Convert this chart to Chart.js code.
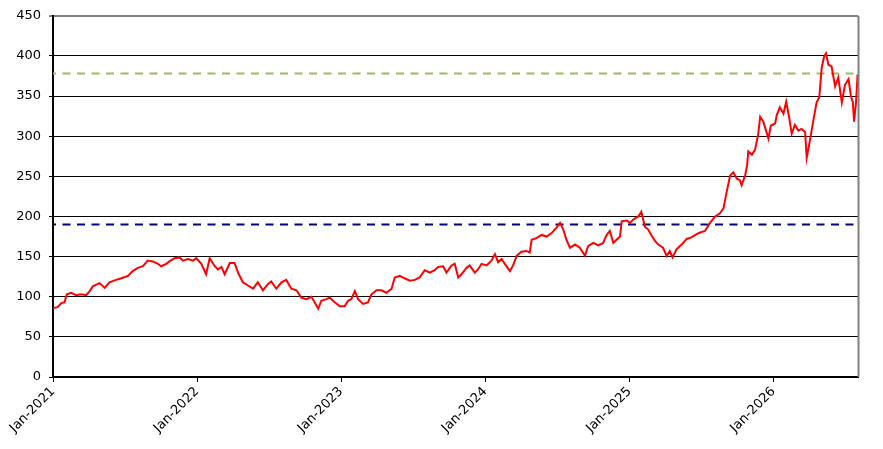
<!DOCTYPE html>
<html>
<head>
<meta charset="utf-8">
<script src="https://cdn.jsdelivr.net/npm/chart.js@4/dist/chart.umd.min.js"></script>
<style>
  html, body { margin: 0; padding: 0; background: #fff; }
  #wrap { width: 883px; height: 449px; }
</style>
</head>
<body>
<div id="wrap"><canvas id="myChart"></canvas></div>
<script>
"use strict";

// Datum och kurs
const dates = [
    '2021-01-01', '2021-01-13', '2021-01-22', '2021-01-30', '2021-02-05', '2021-02-16', '2021-03-01', '2021-03-13',
    '2021-03-26', '2021-04-04', '2021-04-12', '2021-04-29', '2021-05-12', '2021-05-24', '2021-06-10', '2021-06-23',
    '2021-07-10', '2021-07-22', '2021-08-04', '2021-08-17', '2021-08-29', '2021-09-11', '2021-09-24', '2021-10-02',
    '2021-10-15', '2021-10-23', '2021-11-05', '2021-11-18', '2021-11-26', '2021-12-09', '2021-12-22', '2021-12-30',
    '2022-01-12', '2022-01-24', '2022-02-02', '2022-02-15', '2022-02-23', '2022-03-04', '2022-03-12', '2022-03-25',
    '2022-04-06', '2022-04-15', '2022-04-27', '2022-05-10', '2022-05-23', '2022-06-04', '2022-06-17', '2022-06-30',
    '2022-07-08', '2022-07-21', '2022-08-03', '2022-08-15', '2022-08-28', '2022-09-10', '2022-09-22', '2022-10-05',
    '2022-10-18', '2022-10-26', '2022-11-04', '2022-11-12', '2022-11-25', '2022-12-03', '2022-12-16', '2022-12-29',
    '2023-01-10', '2023-01-19', '2023-01-27', '2023-02-05', '2023-02-13', '2023-02-26', '2023-03-10', '2023-03-19',
    '2023-04-01', '2023-04-13', '2023-04-26', '2023-05-09', '2023-05-17', '2023-05-30', '2023-06-11', '2023-06-24',
    '2023-07-07', '2023-07-19', '2023-08-01', '2023-08-14', '2023-08-26', '2023-09-04', '2023-09-17', '2023-09-25',
    '2023-10-08', '2023-10-16', '2023-10-25', '2023-11-02', '2023-11-15', '2023-11-23', '2023-12-06', '2023-12-14',
    '2023-12-23', '2024-01-05', '2024-01-17', '2024-01-26', '2024-02-03', '2024-02-12', '2024-02-20', '2024-03-04',
    '2024-03-12', '2024-03-21', '2024-04-02', '2024-04-15', '2024-04-23', '2024-04-28', '2024-05-10', '2024-05-23',
    '2024-06-05', '2024-06-17', '2024-06-30', '2024-07-09', '2024-07-17', '2024-07-25', '2024-08-03', '2024-08-16',
    '2024-08-28', '2024-09-10', '2024-09-18', '2024-10-01', '2024-10-14', '2024-10-26', '2024-11-04', '2024-11-12',
    '2024-11-21', '2024-11-29', '2024-12-08', '2024-12-12', '2024-12-25', '2025-01-02', '2025-01-10', '2025-01-23',
    '2025-01-31', '2025-02-09', '2025-02-17', '2025-02-26', '2025-03-06', '2025-03-15', '2025-03-27', '2025-04-05',
    '2025-04-13', '2025-04-20', '2025-04-30', '2025-05-13', '2025-05-26', '2025-06-07', '2025-06-20', '2025-06-29',
    '2025-07-11', '2025-07-24', '2025-08-06', '2025-08-18', '2025-08-27', '2025-09-04', '2025-09-13', '2025-09-21',
    '2025-09-30', '2025-10-08', '2025-10-12', '2025-10-21', '2025-10-26', '2025-10-29', '2025-11-07', '2025-11-15',
    '2025-11-23', '2025-11-28', '2025-12-06', '2025-12-13', '2025-12-19', '2025-12-25', '2026-01-05', '2026-01-09',
    '2026-01-17', '2026-01-26', '2026-02-02', '2026-02-10', '2026-02-16', '2026-02-24', '2026-03-05', '2026-03-13',
    '2026-03-22', '2026-03-26', '2026-04-04', '2026-04-12', '2026-04-20', '2026-04-27', '2026-05-03', '2026-05-09',
    '2026-05-14', '2026-05-20', '2026-05-28', '2026-06-06', '2026-06-14', '2026-06-23', '2026-07-01', '2026-07-10',
    '2026-07-16', '2026-07-21', '2026-07-24', '2026-07-29', '2026-08-02'
];

const prices = [
    86, 87, 92, 93, 103, 105, 102, 103,
    102, 107, 113, 117, 111, 118, 121, 123,
    126, 132, 136, 138, 145, 144, 141, 138,
    141, 144, 148, 149, 145, 147, 145, 148,
    141, 128, 148, 138, 134, 137, 128, 142,
    142, 130, 118, 114, 110, 118, 108, 116,
    119, 110, 118, 121, 110, 108, 99, 97,
    100, 93, 85, 95, 97, 99, 93, 88,
    88, 95, 97, 107, 97, 91, 93, 103,
    108, 108, 105, 110, 124, 126, 123, 120,
    121, 124, 133, 130, 133, 137, 138, 130,
    139, 141, 124, 128, 136, 139, 130, 134,
    141, 139, 145, 153, 143, 147, 141, 132,
    139, 151, 156, 157, 155, 171, 173, 177,
    175, 179, 186, 192, 184, 171, 161, 165,
    161, 151, 163, 167, 164, 167, 177, 182,
    167, 171, 175, 194, 195, 192, 196, 200,
    206, 187, 184, 176, 170, 165, 161, 151,
    157, 149, 159, 165, 172, 174, 178, 180,
    182, 192, 200, 204, 210, 230, 251, 255,
    247, 245, 239, 251, 264, 281, 277, 283,
    302, 324, 318, 307, 297, 313, 316, 326,
    336, 328, 343, 322, 303, 314, 307, 309,
    305, 273, 297, 320, 342, 349, 385, 399,
    403, 389, 387, 362, 373, 342, 364, 371,
    350, 342, 318, 342, 377
];

// Referenslinjer (streckade)
const lowLevel = 190;
const highLevel = 378;

// Axelns start/slut och årsmarkeringar
const axisStart = '2021-01-01';
const axisEnd = '2026-08-03';
const tickDates = ['2021-01-01', '2022-01-01', '2023-01-01', '2024-01-01', '2025-01-01', '2026-01-01'];
const tickLabels = ['Jan-2021', 'Jan-2022', 'Jan-2023', 'Jan-2024', 'Jan-2025', 'Jan-2026'];

//Gör om ett datum till antal dagar efter axelns start.
function dayNumber(d) {
    const [y, m, day] = d.split('-').map(Number);
    const [y0, m0, d0] = axisStart.split('-').map(Number);
    return (Date.UTC(y, m - 1, day) - Date.UTC(y0, m0 - 1, d0)) / 86400000;
}

const minX = dayNumber(axisStart);
const maxX = dayNumber(axisEnd);

const pricePoints = dates.map((d, i) => ({ x: dayNumber(d), y: prices[i] }));

Chart.defaults.font.family = "'DejaVu Sans', Verdana, sans-serif";
Chart.defaults.font.size = 13;
Chart.defaults.color = '#000';

//Ram till höger om plotytan.
const frame = {
    id: 'frame',
    afterDraw(chart) {
        const { ctx, chartArea } = chart;
        ctx.save();
        ctx.strokeStyle = '#808080';
        ctx.lineWidth = 2;
        ctx.beginPath();
        ctx.moveTo(chartArea.right + 0.5, chartArea.top);
        ctx.lineTo(chartArea.right + 0.5, chartArea.bottom);
        ctx.stroke();
        ctx.restore();
    }
};

const ctx = document.getElementById('myChart');

new Chart(ctx, {
    type: 'line',
    data: {
        datasets: [{
            label: 'Kurs',
            data: pricePoints,
            borderColor: '#ff0000',
            borderWidth: 2,
            pointRadius: 0,
            tension: 0,
            order: 0
        }, {
            label: 'Låg',
            data: [{ x: minX, y: lowLevel }, { x: maxX, y: lowLevel }],
            borderColor: '#000080',
            borderWidth: 2.2,
            borderDash: [8, 6.5],
            borderDashOffset: 5,
            pointRadius: 0,
            order: 1
        }, {
            label: 'Hög',
            data: [{ x: minX, y: highLevel }, { x: maxX, y: highLevel }],
            borderColor: '#9bbb59',
            borderWidth: 2,
            borderDash: [8, 6.5],
            borderDashOffset: 5,
            pointRadius: 0,
            order: 2
        }]
    },
    options: {
        responsive: true,
        maintainAspectRatio: false,
        animation: false,
        events: [],
        layout: {
            padding: { top: 8, right: 25, left: 0, bottom: 0 }
        },
        plugins: {
            legend: { display: false },
            tooltip: { enabled: false }
        },
        scales: {
            x: {
                type: 'linear',
                min: minX,
                max: maxX,
                afterBuildTicks: axis => {
                    axis.ticks = tickDates.map(d => ({ value: dayNumber(d) }));
                },
                afterFit: axis => { axis.height = 72; },
                ticks: {
                    autoSkip: false,
                    maxRotation: 45,
                    minRotation: 45,
                    padding: 2,
                    callback: (value) => {
                        const i = tickDates.findIndex(d => dayNumber(d) === value);
                        return i >= 0 ? tickLabels[i] : '';
                    }
                },
                grid: {
                    drawOnChartArea: false,
                    drawTicks: true,
                    tickLength: 5,
                    color: '#000'
                },
                border: { color: '#000', width: 2 }
            },
            y: {
                min: 0,
                max: 450,
                afterFit: axis => { axis.width = 53; },
                ticks: {
                    stepSize: 50,
                    padding: 8
                },
                grid: {
                    color: c => c.tick.value === 450 ? '#808080' : '#000',
                    lineWidth: c => c.tick.value === 450 ? 2 : 1,
                    tickLength: 4
                },
                border: { color: '#000', width: 2 }
            }
        }
    },
    plugins: [frame]
});
</script>
</body>
</html>
